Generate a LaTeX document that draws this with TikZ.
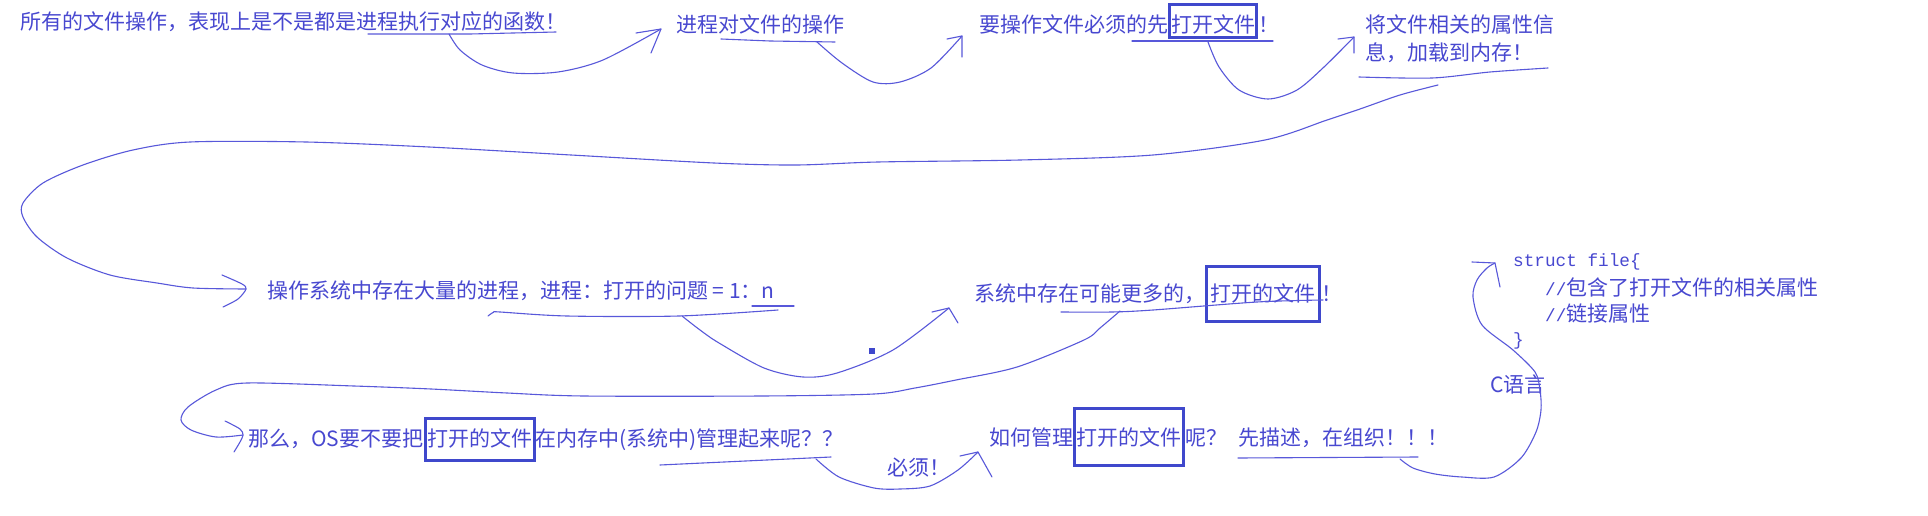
\documentclass[tikz,border=0pt]{standalone}
\usepackage{fontspec}
\setmainfont{Noto Sans CJK SC}
\newfontfamily\codefont{Liberation Mono}
\definecolor{ink}{RGB}{72,72,208}
\definecolor{boxblue}{RGB}{63,72,204}
\definecolor{pen}{RGB}{88,88,218}
\tikzset{
  txt/.style={inner sep=0pt, text=ink, font=\fontsize{21}{28}\selectfont, anchor=base west},
  code/.style={inner sep=0pt, text=ink, font=\fontsize{21}{28}\selectfont, anchor=base west},
  hl/.style n args={3}{draw=boxblue, line width=3pt, inner xsep=#1, inner ysep=0pt,
     text height=#2, text depth=#3, text=ink, font=\fontsize{21}{28}\selectfont, anchor=base west},
  stroke/.style={draw=pen, line width=1.1pt, line cap=round, line join=round},
}
\begin{document}
\begin{tikzpicture}[x=1pt,y=-1pt]
\useasboundingbox (0,0) rectangle (1928,516);
\fill[white] (0,0) rectangle (1928,516);

% ---- texts ----
\node[txt] (t1) at (20,30) {所有的文件操作，表现上是不是都是进程执行对应的函数！};
\node[txt] (t2) at (676,33) {进程对文件的操作};
\node[txt] (t3a) at (979,33) {要操作文件必须的先};
\node[hl={1.5pt}{28.8pt}{4.8pt}] (t3b) at (t3a.base east) {打开文件};
\node[txt] (t3c) at (t3b.base east) {！};
\node[txt] (t4a) at (1365,33) {将文件相关的属性信};
\node[txt] (t4b) at (1365,61) {息，加载到内存！};

\node[txt] (t5) at (267,298) {操作系统中存在大量的进程，进程：打开的问题 = 1：n};
\node[txt] (t6a) at (974,301) {系统中存在可能更多的，};
\node[hl={4pt}{34.5pt}{20.5pt}] (t6b) at (t6a.base east) {打开的文件};
\node[txt] (t6c) at (t6b.base east) {！};

\node[txt] (t7a) at (248,446) {那么，OS要不要把};
\node[hl={2pt}{27.5pt}{14.5pt}] (t7b) at (t7a.base east) {打开的文件};
\node[txt] (t7c) at (t7b.base east) {在内存中(系统中)管理起来呢？？};
\node[txt] (t8) at (887,475) {必须！};
\node[txt] (t9a) at (989,445) {如何管理};
\node[hl={2pt}{36.5pt}{20.5pt}] (t9b) at (t9a.base east) {打开的文件};
\node[txt] (t9c) at (t9b.base east) {呢？};
\node[txt] (t10) at (1238,445) {先描述，在组织！！！};

\node[code] (k1) at (1513,266) {{\codefont\fontsize{17.7}{24}\selectfont struct file\{}};
\node[code] (k2) at (1545,295) {{\codefont\fontsize{17.7}{24}\selectfont //}包含了打开文件的相关属性};
\node[code] (k3) at (1545,321) {{\codefont\fontsize{17.7}{24}\selectfont //}链接属性};
\node[code] (k4) at (1513,345) {{\codefont\fontsize{17.7}{24}\selectfont \}}};
\node[txt] (cl) at (1490,392) {C语言};

% ---- underlines ----
\draw[stroke] (368,34) -- (470,34) -- (556,32);
\draw[stroke] (721,39) -- (770,41) -- (835,42);
\draw[stroke] (1132,41) -- (1273,41);
\draw[stroke] plot[smooth] coordinates {(1359,77) (1432,78) (1490,72) (1548,68)};
\draw[stroke] plot[smooth] coordinates {(488,316) (494,312) (500,312) (567,316) (679,316) (778,310)};
\draw[stroke] (752,306) -- (794,306);
\draw[stroke] plot[smooth] coordinates {(1061,312) (1112,312) (1153,310) (1257,302) (1323,300)};
\draw[stroke] (660,465) -- (831,457);
\draw[stroke] (1238,458) -- (1418,457);

% ---- connectors ----
\coordinate (a1) at (661,29);
\draw[stroke] plot[smooth] coordinates {(449,34) (460,50) (482,65) (513,73) (558,72) (603,60) (a1)};
\draw[stroke] (636,33) -- (a1) -- (651,53);

\coordinate (a2) at (962,36);
\draw[stroke] plot[smooth] coordinates {(817,42) (842,63) (873,82) (900,82) (931,68) (a2)};
\draw[stroke] (947,39) -- (a2) -- (962,57);

\coordinate (a3) at (1354,37);
\draw[stroke] plot[smooth] coordinates {(1208,42) (1219,67) (1239,90) (1268,99) (1297,90) (1324,67) (a3)};
\draw[stroke] (1338,39) -- (a3) -- (1354,53);

\coordinate (a4) at (246,289);
\draw[stroke] plot[smooth] coordinates {(1438,85) (1400,95) (1360,109) (1327,120) (1265,140) (1153,155) (1020,160) (878,162) (796,165) (714,163) (571,155) (429,147) (306,142) (190,142) (133,150) (83,165) (43,183) (23,203) (23,217) (37,237) (67,258) (110,275) (157,283) (193,288) (a4)};
\draw[stroke] plot[smooth] coordinates {(222,275) (242,284) (a4) (238,299) (223,307)};

\coordinate (a5) at (949,308);
\draw[stroke] plot[smooth] coordinates {(682,316) (700,330) (719,343) (764,368) (803,377) (837,373) (893,350) (a5)};
\draw[stroke] (932,312) -- (a5) -- (958,323);
\fill[boxblue] (869,348) rectangle (875,354);

\coordinate (a6) at (243,435);
\draw[stroke] plot[smooth] coordinates {(1120,311) (1100,328) (1084,340) (1017,367) (956,380) (915,388) (874,394) (762,396) (584,396) (507,393) (431,389) (354,386) (247,383) (216,390) (188,407) (181,420) (191,430) (216,437) (a6)};
\draw[stroke] plot[smooth] coordinates {(225,421) (240,429) (a6) (240,442) (234,452)};

\coordinate (a7) at (978,452);
\draw[stroke] plot[smooth] coordinates {(816,459) (839,477) (874,488) (900,489) (930,486) (958,470) (a7)};
\draw[stroke] (960,456) -- (a7) -- (992,477);

\coordinate (a8) at (1495,263);
\draw[stroke] plot[smooth] coordinates {(1400,459) (1413,468) (1435,474) (1462,477) (1494,477) (1521,458) (1536,432) (1541,410) (1540,390) (1535,372) (1513,350) (1482,325) (1473,297) (1477,280) (1487,268) (a8)};
\draw[stroke] (1472,262) -- (a8) -- (1500,287);
\end{tikzpicture}
\end{document}
